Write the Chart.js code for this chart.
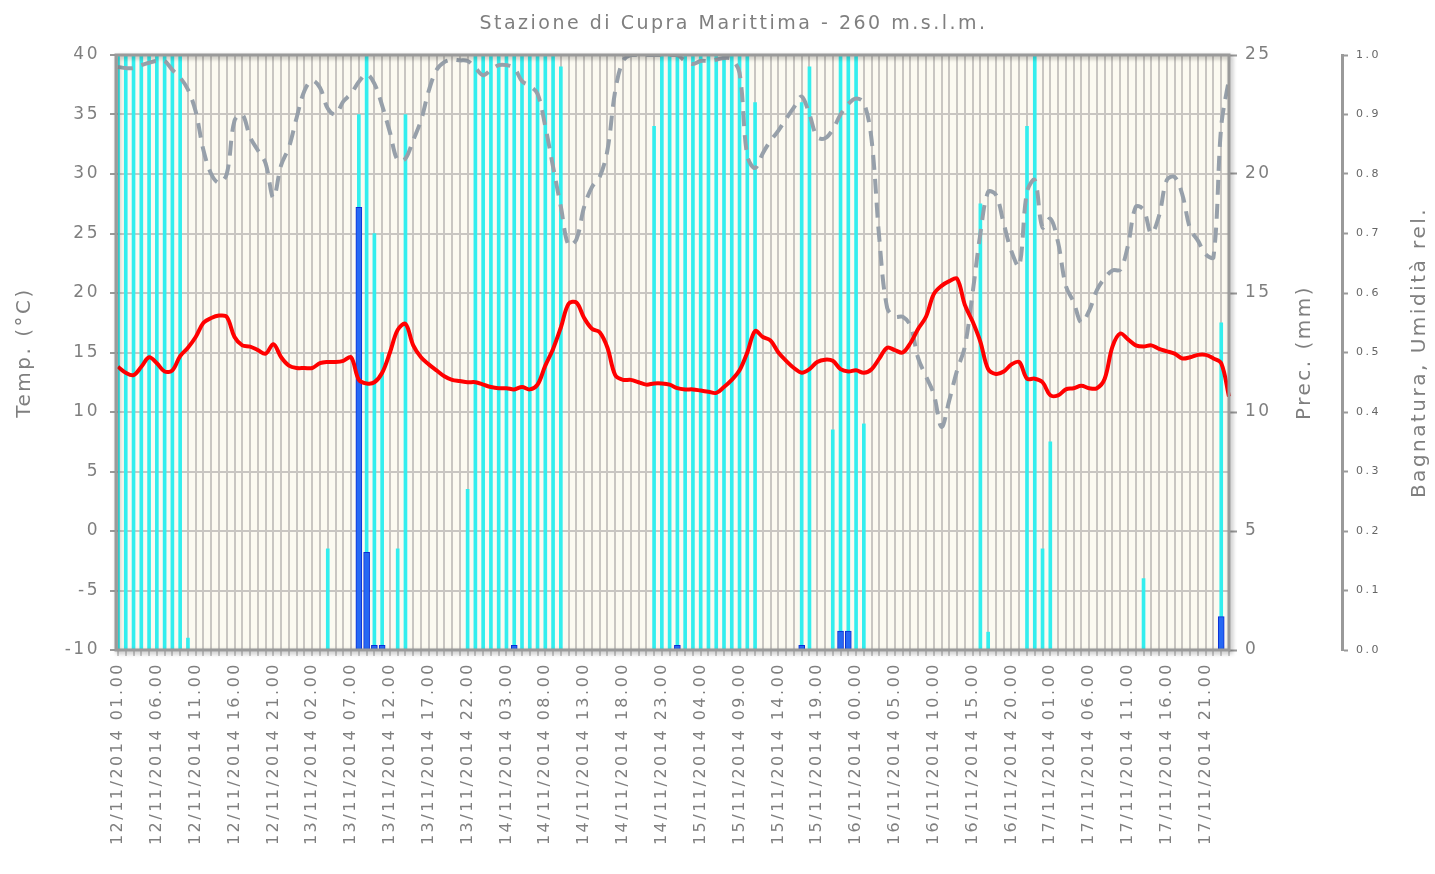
<!DOCTYPE html>
<html>
<head>
<meta charset="utf-8">
<title>Stazione di Cupra Marittima</title>
<script src="https://cdn.jsdelivr.net/npm/chart.js@4.4.1/dist/chart.umd.min.js"></script>
<style>
  html, body { margin: 0; padding: 0; background: #ffffff; }
  canvas { display: block; }
</style>
</head>
<body>
<canvas id="myChart" width="1435" height="874"></canvas>
<script>
// hourly readings 12/11/2014 01.00 -> 18/11/2014 00.00
const temp = [
  13.8, 13.3, 13.1, 13.8, 14.6, 14.1, 13.4, 13.5, 14.7, 15.4, 16.3, 17.5, 17.9, 18.1, 18.0, 16.3, 15.6, 15.5, 15.2, 14.9, 15.7, 14.6, 13.9, 13.7,
  13.7, 13.7, 14.1, 14.2, 14.2, 14.3, 14.6, 12.7, 12.4, 12.5, 13.3, 15.0, 16.9, 17.4, 15.6, 14.6, 14.0, 13.5, 13.0, 12.7, 12.6, 12.5, 12.5, 12.3,
  12.1, 12.0, 12.0, 11.9, 12.1, 11.9, 12.3, 13.9, 15.3, 17.1, 19.1, 19.2, 17.9, 17.0, 16.7, 15.4, 13.1, 12.7, 12.7, 12.5, 12.3, 12.4, 12.4, 12.3,
  12.0, 11.9, 11.9, 11.8, 11.7, 11.6, 12.1, 12.7, 13.5, 15.0, 16.8, 16.3, 16.0, 15.0, 14.3, 13.7, 13.3, 13.6, 14.2, 14.4, 14.3, 13.6, 13.4, 13.5,
  13.3, 13.6, 14.5, 15.4, 15.2, 15.0, 15.8, 17.0, 18.0, 19.9, 20.6, 21.0, 21.2, 19.0, 17.6, 15.9, 13.6, 13.2, 13.4, 14.0, 14.2, 12.8, 12.8, 12.5,
  11.4, 11.4, 11.9, 12.0, 12.2, 12.0, 12.0, 12.8, 15.5, 16.6, 16.1, 15.6, 15.5, 15.6, 15.3, 15.1, 14.9, 14.5, 14.6, 14.8, 14.8, 14.5, 14.1, 11.3
];

const umidita = [
  0.98, 0.978, 0.978, 0.983, 0.987, 0.99, 0.99, 0.975, 0.962, 0.942, 0.905, 0.84, 0.80, 0.785, 0.80, 0.89, 0.90, 0.862, 0.84, 0.818, 0.76, 0.815, 0.845, 0.895,
  0.94, 0.957, 0.945, 0.91, 0.90, 0.922, 0.935, 0.955, 0.968, 0.952, 0.915, 0.87, 0.823, 0.826, 0.857, 0.89, 0.94, 0.975, 0.988, 0.992, 0.991, 0.99, 0.978, 0.966,
  0.975, 0.983, 0.983, 0.978, 0.956, 0.948, 0.935, 0.88, 0.812, 0.745, 0.68, 0.69, 0.745, 0.778, 0.795, 0.84, 0.94, 0.99, 1.0, 1.0, 1.0, 1.0, 1.0, 1.0,
  1.0, 0.99, 0.985, 0.99, 0.99, 0.992, 0.995, 0.993, 0.97, 0.83, 0.81, 0.835, 0.856, 0.873, 0.893, 0.912, 0.93, 0.9, 0.862, 0.86, 0.875, 0.9, 0.918, 0.927,
  0.92, 0.857, 0.69, 0.575, 0.56, 0.56, 0.545, 0.49, 0.46, 0.43, 0.375, 0.42, 0.47, 0.51, 0.60, 0.70, 0.77, 0.765, 0.717, 0.67, 0.645, 0.77, 0.79, 0.71,
  0.725, 0.685, 0.612, 0.585, 0.55, 0.57, 0.605, 0.625, 0.638, 0.639, 0.68, 0.745, 0.74, 0.70, 0.73, 0.79, 0.795, 0.765, 0.708, 0.688, 0.665, 0.66, 0.88, 0.96
];

const bagnatura = [
  1, 1, 1, 1, 1, 1, 1, 1, 1, 0.02, 0, 0, 0, 0, 0, 0, 0, 0, 0, 0, 0, 0, 0, 0,
  0, 0, 0, 0.17, 0, 0, 0, 0.9, 1, 0.7, 0.5, 0, 0.17, 0.9, 0, 0, 0, 0, 0, 0, 0, 0.27, 1, 1,
  1, 1, 1, 1, 1, 1, 1, 1, 1, 0.98, 0, 0, 0, 0, 0, 0, 0, 0, 0, 0, 0, 0.88, 1, 1,
  1, 1, 1, 1, 1, 1, 1, 1, 1, 1, 0.92, 0, 0, 0, 0, 0, 0.92, 0.98, 0, 0, 0.37, 1, 1, 1,
  0.38, 0, 0, 0, 0, 0, 0, 0, 0, 0, 0, 0, 0, 0, 0, 0.75, 0.03, 0, 0, 0, 0, 0.88, 1, 0.17,
  0.35, 0, 0, 0, 0, 0, 0, 0, 0, 0, 0, 0, 0.12, 0, 0, 0, 0, 0, 0, 0, 0, 0, 0.55, 0
];

const prec = [
  0, 0, 0, 0, 0, 0, 0, 0, 0, 0, 0, 0, 0, 0, 0, 0, 0, 0, 0, 0, 0, 0, 0, 0,
  0, 0, 0, 0, 0, 0, 0, 18.6, 4.1, 0.2, 0.2, 0, 0, 0, 0, 0, 0, 0, 0, 0, 0, 0, 0, 0,
  0, 0, 0, 0.2, 0, 0, 0, 0, 0, 0, 0, 0, 0, 0, 0, 0, 0, 0, 0, 0, 0, 0, 0, 0,
  0.2, 0, 0, 0, 0, 0, 0, 0, 0, 0, 0, 0, 0, 0, 0, 0, 0.2, 0, 0, 0, 0, 0.8, 0.8, 0,
  0, 0, 0, 0, 0, 0, 0, 0, 0, 0, 0, 0, 0, 0, 0, 0, 0, 0, 0, 0, 0, 0, 0, 0,
  0, 0, 0, 0, 0, 0, 0, 0, 0, 0, 0, 0, 0, 0, 0, 0, 0, 0, 0, 0, 0, 0, 1.4, 0
];

// category labels, one per hour
const ore = [];
for (let i = 0; i < temp.length; i++) {
  let h = i + 1;
  let giorno = 12 + Math.floor(h / 24);
  let hh = h % 24;
  ore.push(giorno + '/11/2014 ' + (hh < 10 ? '0' : '') + hh + '.00');
}

const tickTemp = [-10, -5, 0, 5, 10, 15, 20, 25, 30, 35, 40];
const tickPrec = [0, 5, 10, 15, 20, 25];

const titolo = 'Stazione di Cupra Marittima - 260 m.s.l.m.';
const titoloPrec = 'Prec. (mm)';
const titoloBagn = 'Bagnatura, Umidità rel.';

const gray = '#9a9a9a';
const txt = '#7f7f7f';
const spacing = '2.5px';
const family = "'DejaVu Sans', sans-serif";

Chart.defaults.font.family = family;
Chart.defaults.color = txt;

// rotated text reading bottom to top
function vText(c, s, x, y) {
  c.save();
  c.translate(x, y);
  c.rotate(-Math.PI / 2);
  c.textAlign = 'center';
  c.textBaseline = 'middle';
  c.fillText(s, 0, 0);
  c.restore();
}

const frame = {
  id: 'frame',
  beforeLayout: (chart) => {
    chart.ctx.letterSpacing = spacing;
  },
  beforeDraw: (chart) => {
    const c = chart.ctx;
    const a = chart.chartArea;
    c.letterSpacing = spacing;
    c.save();
    c.fillStyle = '#ffffff';
    c.fillRect(0, 0, chart.width, chart.height);
    c.fillStyle = '#fcfaf1';
    c.fillRect(a.left, a.top, a.right - a.left, a.bottom - a.top);
    c.restore();
  },
  afterDraw: (chart) => {
    const c = chart.ctx;
    const a = chart.chartArea;
    c.save();
    c.strokeStyle = gray;
    c.lineWidth = 3;
    c.shadowColor = 'rgba(0,0,0,0.3)';
    c.shadowBlur = 4;
    c.shadowOffsetX = 2;
    c.shadowOffsetY = 2;
    c.strokeRect(a.left - 2, a.top, a.right - a.left + 2, a.bottom - a.top);
    c.restore();

    c.save();
    c.fillStyle = txt;
    c.font = '19px ' + family;
    c.textAlign = 'center';
    c.textBaseline = 'middle';
    c.fillText(titolo, chart.width / 2 + 16, 24);
    c.font = '20px ' + family;
    const mid = (a.top + a.bottom) / 2;
    vText(c, titoloPrec, chart.scales.yP.right - 37, mid);
    vText(c, titoloBagn, chart.scales.yB.right - 15, mid);
    c.restore();
  }
};

let ctx = document.getElementById('myChart').getContext('2d');
let myChart = new Chart(ctx, {
  type: 'bar',
  data: {
    labels: ore,
    datasets: [{
      type: 'line',
      label: 'Temp.',
      data: temp,
      yAxisID: 'yT',
      borderColor: '#ff0000',
      borderWidth: 4,
      pointRadius: 0,
      tension: 0.35,
      order: 0
    }, {
      type: 'line',
      label: 'Umidità rel.',
      data: umidita,
      yAxisID: 'yB',
      borderColor: '#97a0aa',
      borderWidth: 4,
      borderDash: [15, 9],
      pointRadius: 0,
      tension: 0.35,
      order: 1
    }, {
      type: 'bar',
      label: 'Prec.',
      data: prec,
      yAxisID: 'yP',
      backgroundColor: '#2668f4',
      borderColor: '#0a2ed6',
      borderWidth: (c) => (c.raw > 0 ? 1 : 0),
      barThickness: 6,
      grouped: false,
      order: 2
    }, {
      type: 'bar',
      label: 'Bagnatura',
      data: bagnatura,
      yAxisID: 'yB',
      backgroundColor: '#33eeee',
      borderWidth: 0,
      barThickness: 3,
      grouped: false,
      order: 3
    }]
  },
  options: {
    responsive: false,
    devicePixelRatio: 1,
    animation: false,
    layout: { padding: { top: 55 } },
    plugins: {
      legend: { display: false },
      tooltip: { enabled: false },
      title: { display: false }
    },
    scales: {
      x: {
        type: 'category',
        offset: false,
        grid: {
          offset: false,
          color: '#c9c6c2',
          lineWidth: 2,
          tickColor: gray,
          tickLength: 6,
          tickWidth: 1
        },
        border: { display: false },
        ticks: {
          autoSkip: false,
          minRotation: 90,
          maxRotation: 90,
          padding: 6,
          font: { size: 16 },
          callback: (v, i) => (i % 5 === 0 ? ore[i] : '')
        },
        afterFit: (s) => { s.height = 224; }
      },
      yT: {
        position: 'left',
        min: -10,
        max: 40,
        afterBuildTicks: (s) => { s.ticks = tickTemp.map(v => ({ value: v })); },
        grid: {
          color: '#c9c6c2',
          lineWidth: 2,
          tickColor: gray,
          tickLength: 8,
          tickWidth: 2
        },
        border: { display: false },
        ticks: { padding: 10, font: { size: 17 } },
        title: {
          display: true,
          text: 'Temp. (°C)',
          color: txt,
          font: { size: 20 },
          padding: { top: 13 }
        },
        afterFit: (s) => { s.width = 118; }
      },
      yP: {
        position: 'right',
        min: 0,
        max: 25,
        afterBuildTicks: (s) => { s.ticks = tickPrec.map(v => ({ value: v })); },
        grid: {
          drawOnChartArea: false,
          tickColor: gray,
          tickLength: 8,
          tickWidth: 2
        },
        border: { display: false },
        ticks: { padding: 8, font: { size: 17 } },
        afterFit: (s) => { s.width = 113; }
      },
      yB: {
        position: 'right',
        min: 0,
        max: 1,
        grid: {
          drawOnChartArea: false,
          tickColor: gray,
          tickLength: 6,
          tickWidth: 2
        },
        border: { display: true, color: gray, width: 3 },
        ticks: {
          stepSize: 0.1,
          padding: 8,
          color: '#666666',
          font: { size: 11 },
          callback: (v) => v.toFixed(1)
        },
        afterFit: (s) => { s.width = 93; }
      }
    }
  },
  plugins: [frame]
});
</script>
</body>
</html>
